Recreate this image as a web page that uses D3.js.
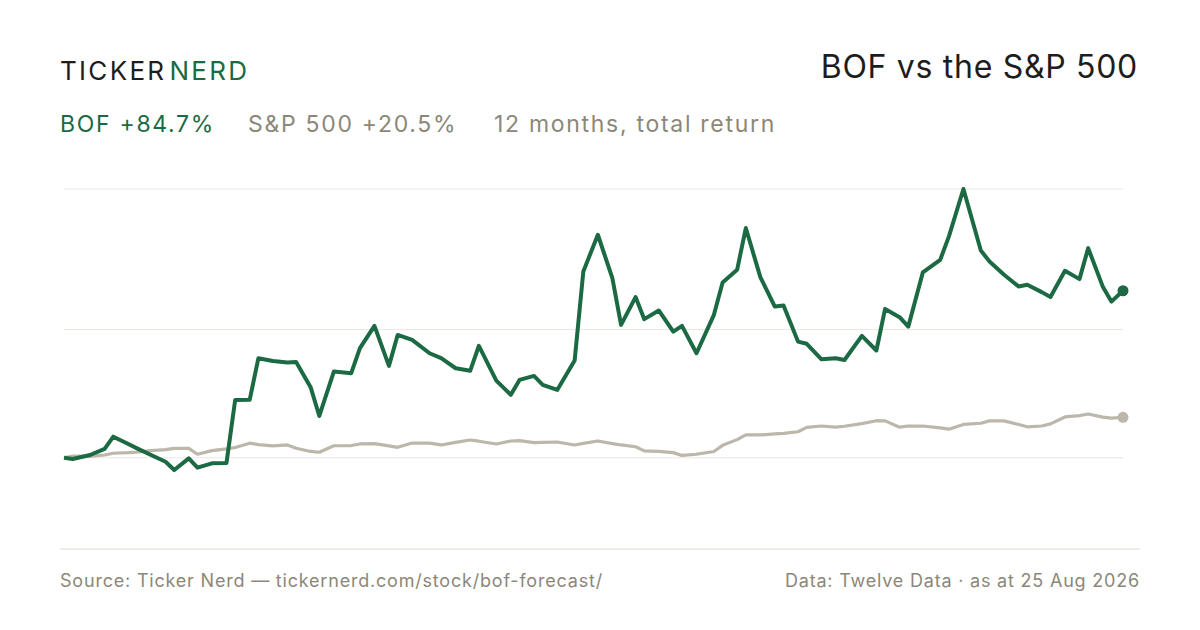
<!DOCTYPE html>
<html>
<head>
<meta charset="utf-8">
<script src="https://cdn.jsdelivr.net/npm/d3@7"></script>
<style>
  html, body { margin: 0; padding: 0; background: #fff; }
  svg { display: block; font-family: Inter, "Noto Sans", sans-serif; }
</style>
</head>
<body>
<div id="chart"></div>
<script>
const START_DATE = new Date(2025, 7, 25);
// sample dates: calendar days after 25 Aug 2025 (every 3rd trading day, plus latest)
const dayOffsets = [0, 3, 9, 14, 17, 22, 25, 30, 35, 38, 43, 46, 51, 56, 59, 64, 67, 72, 77, 80,
  85, 88, 93, 99, 102, 107, 112, 115, 120, 126, 130, 135, 140, 143, 149, 154, 157, 162, 165, 170,
  176, 179, 184, 189, 192, 197, 200, 205, 210, 213, 218, 224, 227, 232, 235, 240, 245, 248, 253, 256,
  261, 266, 269, 275, 280, 283, 288, 291, 296, 302, 305, 310, 316, 319, 324, 329, 332, 337, 340, 345,
  350, 353, 358, 361, 365];
// total return, %
const bofReturn = [0, -0.6, 1.4, 4.5, 10.7, 7.1, 4.9, 1.4, -2.0, -6.2, -0.3, -5.0, -2.8, -2.7, 29.3, 29.4, 50.5, 49.1, 48.3, 48.6,
  35.8, 21.2, 43.7, 42.9, 55.6, 66.9, 46.6, 62.3, 59.8, 53.0, 50.5, 45.4, 44.1, 56.8, 39.1, 31.9, 39.5, 41.5, 37.0, 34.4,
  49.3, 94.5, 113.1, 91.1, 67.4, 81.5, 70.3, 74.7, 64.0, 66.9, 53.0, 72.5, 88.9, 95.3, 116.5, 91.6, 76.7, 77.2, 58.9, 57.8,
  50.0, 50.5, 49.6, 61.8, 54.4, 75.5, 71.3, 66.5, 94.0, 100.4, 112.3, 136.3, 105.1, 99.5, 92.8, 86.9, 87.7, 84.0, 81.5, 94.8,
  90.6, 106.3, 86.9, 79.2, 84.7];
const spxReturn = [0, 0.9, 0.7, 1.4, 2.3, 2.6, 2.9, 3.6, 4.1, 4.8, 4.8, 1.8, 3.6, 4.5, 5.2, 7.4, 6.7, 6.0, 6.5, 4.8,
  3.2, 2.8, 6.1, 6.2, 7.0, 7.2, 6.0, 5.3, 7.5, 7.4, 6.5, 7.8, 9.0, 8.4, 7.0, 8.5, 8.7, 7.7, 7.8, 8.0,
  6.5, 7.3, 8.5, 7.2, 6.5, 5.6, 3.5, 3.2, 2.6, 1.2, 1.8, 3.2, 6.3, 9.2, 11.6, 11.6, 12.1, 12.4, 13.2, 15.4,
  16.1, 15.5, 16.0, 17.3, 18.8, 18.7, 15.5, 16.1, 16.1, 15.2, 14.5, 16.9, 17.5, 18.7, 18.7, 16.9, 15.7, 16.1, 17.2, 20.7,
  21.4, 22.2, 20.6, 20.1, 20.5];

const TICKER = "BOF";
const headline = [
  { text: "BOF +84.7%", color: "#1b6a43" },
  { text: "S&P 500 +20.5%", color: "#8c8778" },
  { text: "12 months, total return", color: "#8c8778" }
];
const sourceText = "Source: Ticker Nerd \u2014 tickernerd.com/stock/bof-forecast/";
const dataText = "Data: Twelve Data \u00b7 as at 25 Aug 2026";

const WIDTH = 1200, HEIGHT = 630;
const GREEN = "#1b6a43", GREY_LINE = "#bdb7ab", GREY_TEXT = "#8c8778";
const PLOT = { LEFT: 64, RIGHT: 1123, TOP: 189, BOTTOM: 470 };

const svg = d3.select("#chart").append("svg")
  .attr("width", WIDTH)
  .attr("height", HEIGHT);

const dates = dayOffsets.map(d => d3.timeDay.offset(START_DATE, d));
const bof = dates.map((d, i) => ({ date: d, v: bofReturn[i] }));
const spx = dates.map((d, i) => ({ date: d, v: spxReturn[i] }));

const x = d3.scaleTime()
  .domain(d3.extent(dates))
  .range([PLOT.LEFT, PLOT.RIGHT]);

const allVals = bofReturn.concat(spxReturn);
const yMin = d3.min(allVals), yMax = d3.max(allVals);
const y = d3.scaleLinear()
  .domain([yMin, yMax])
  .range([PLOT.BOTTOM, PLOT.TOP]);

// header
const logo = svg.append("text")
  .attr("x", 60)
  .attr("y", 80)
  .style("font-size", "26px")
  .style("letter-spacing", "2.3px");
logo.append("tspan").attr("fill", "#1d1d1b").text("TICKER");
logo.append("tspan").attr("fill", GREEN).attr("dx", 3).text("NERD");

svg.append("text")
  .attr("x", 1138)
  .attr("y", 78)
  .attr("text-anchor", "end")
  .attr("fill", "#1d1d1b")
  .style("font-size", "32px")
  .style("letter-spacing", "0.7px")
  .text(TICKER + " vs the S&P 500");

const headX = [60, 248, 494];
svg.selectAll(".headline")
  .data(headline)
  .enter()
  .append("text")
  .attr("class", "headline")
  .attr("x", (d, i) => headX[i])
  .attr("y", 132)
  .attr("fill", d => d.color)
  .style("font-size", "23px")
  .style("letter-spacing", "1.7px")
  .text(d => d.text);

// gridlines: zero, midpoint, high
const gridVals = [0, (yMin + yMax) / 2, yMax];
svg.append("g")
  .selectAll("line")
  .data(gridVals)
  .enter()
  .append("line")
  .attr("x1", PLOT.LEFT)
  .attr("x2", PLOT.RIGHT)
  .attr("y1", d => y(d))
  .attr("y2", d => y(d))
  .attr("stroke", "#ebe8e1")
  .attr("stroke-width", 1.2);

const line = d3.line()
  .x(d => x(d.date))
  .y(d => y(d.v));

svg.append("path")
  .datum(spx)
  .attr("d", line)
  .attr("fill", "none")
  .attr("stroke", GREY_LINE)
  .attr("stroke-width", 3.2)
  .attr("stroke-linejoin", "round");

svg.append("path")
  .datum(bof)
  .attr("d", line)
  .attr("fill", "none")
  .attr("stroke", GREEN)
  .attr("stroke-width", 4)
  .attr("stroke-linejoin", "round");

// end dots
svg.append("circle")
  .attr("cx", x(spx[spx.length - 1].date))
  .attr("cy", y(spx[spx.length - 1].v))
  .attr("r", 5.5)
  .attr("fill", GREY_LINE);
svg.append("circle")
  .attr("cx", x(bof[bof.length - 1].date))
  .attr("cy", y(bof[bof.length - 1].v))
  .attr("r", 5.5)
  .attr("fill", GREEN);

// footer
svg.append("line")
  .attr("x1", 60).attr("x2", 1140)
  .attr("y1", 549).attr("y2", 549)
  .attr("stroke", "#dedad0")
  .attr("stroke-width", 1.2);

svg.append("text")
  .attr("x", 60)
  .attr("y", 587)
  .attr("fill", GREY_TEXT)
  .style("font-size", "18px")
  .style("letter-spacing", "0.8px")
  .text(sourceText);

svg.append("text")
  .attr("x", 1140)
  .attr("y", 587)
  .attr("text-anchor", "end")
  .attr("fill", GREY_TEXT)
  .style("font-size", "18px")
  .style("letter-spacing", "0.8px")
  .text(dataText);
</script>
</body>
</html>
